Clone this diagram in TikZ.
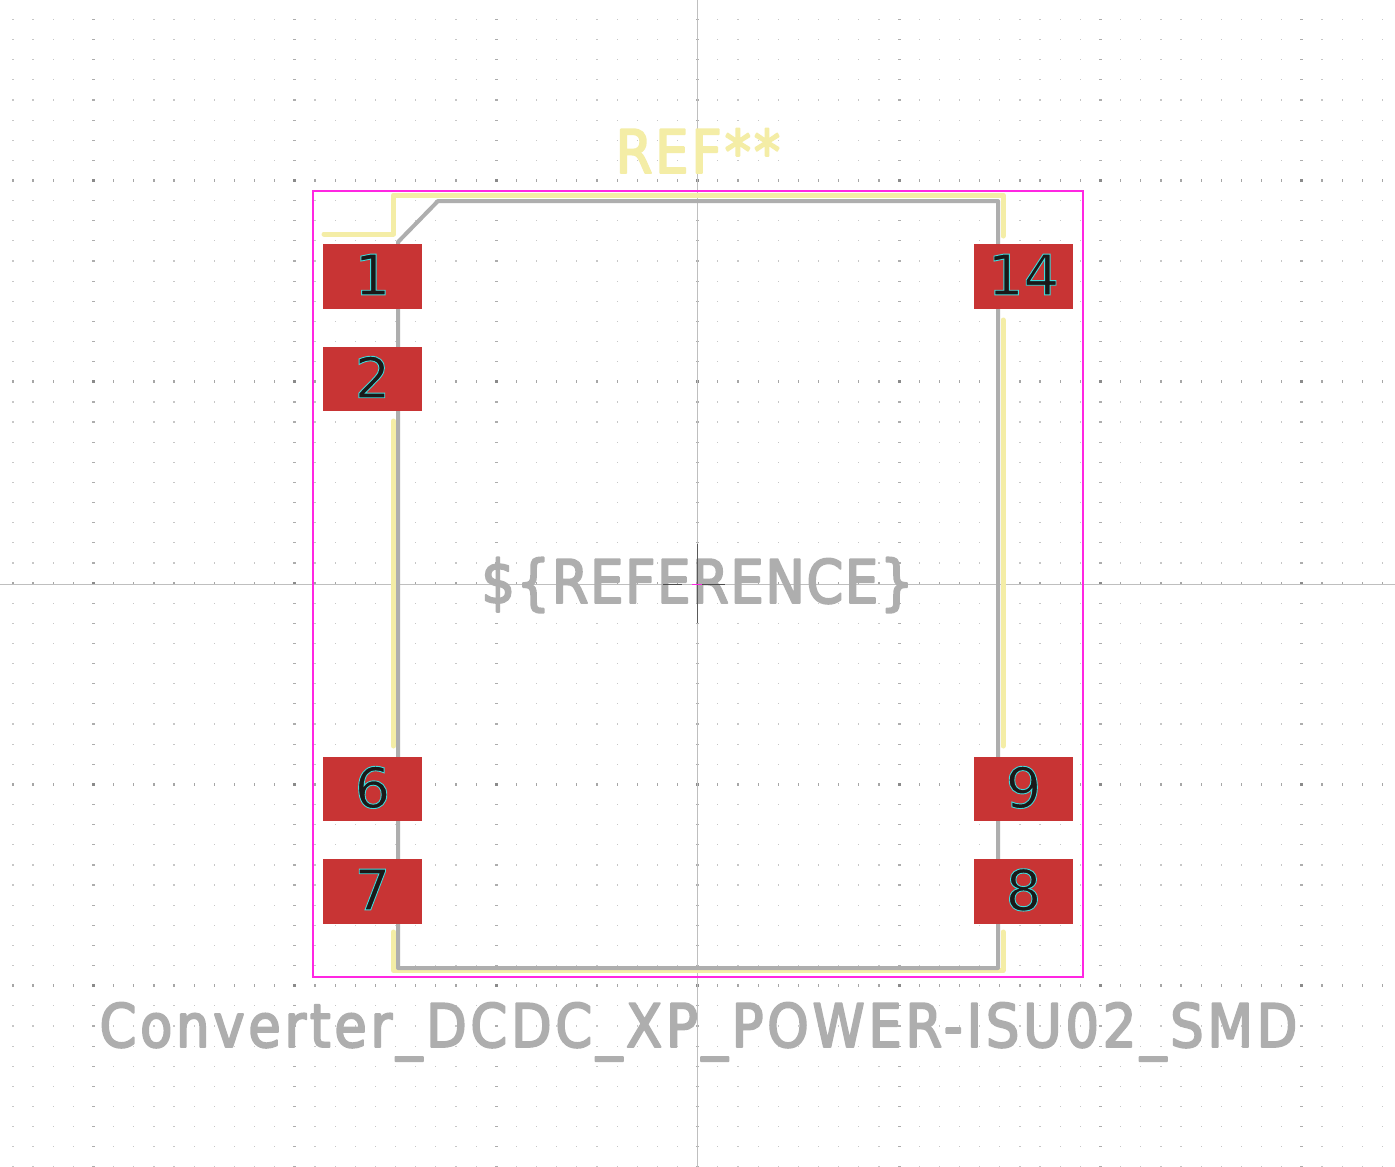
\documentclass[tikz,border=0pt]{standalone}
\usepackage{fontspec}
\setmainfont{DejaVu Sans}
\newfontfamily\namefont[FakeStretch=0.88,LetterSpace=6.2]{DejaVu Sans}
\newfontfamily\valuefont[FakeStretch=0.88,LetterSpace=2.7]{DejaVu Sans}
\newfontfamily\silkfont[FakeStretch=0.88,LetterSpace=4.7]{DejaVu Sans}
\definecolor{silkyellow}{HTML}{F4EDA6}
\definecolor{fabgray}{HTML}{AEAEAE}
\definecolor{courtmag}{HTML}{FF26E2}
\definecolor{padred}{HTML}{C83434}
\definecolor{gridgray}{HTML}{8A8A8A}
\newcommand{\padnum}[1]{\raisebox{4pt}{\special{pdf:code 2 Tr 0.9 w 0.25 0.85 0.85 RG}#1\special{pdf:code 0 Tr}}}
\newcommand{\strokefab}[1]{\special{pdf:code 2 Tr 1.9 w 1 j 1 J 0.682 0.682 0.682 RG}#1\special{pdf:code 0 Tr 0 J 0 j}}
\newcommand{\strokesilk}[1]{\special{pdf:code 2 Tr 1.9 w 1 j 1 J 0.957 0.929 0.651 RG}#1\special{pdf:code 0 Tr 0 J 0 j}}
\begin{document}
\begin{tikzpicture}[x=1pt,y=-1pt,
  silk/.style={draw=silkyellow,line width=5pt,line cap=round,line join=round},
  fab/.style={draw=fabgray,line width=4pt,line join=round},
  axis/.style={draw=black!25,line width=1pt},
  padbox/.style={fill=padred,minimum width=99pt,minimum height=64.5pt,inner sep=0pt,
    text=black!90,font=\fontsize{56}{56}\selectfont},
  graytext/.style={text=fabgray,inner sep=0pt,anchor=base}]
\useasboundingbox (0,0) rectangle (1395,1167);
\fill[white] (0,0) rectangle (1395,1167);
% grid
\foreach \i in {-4,...,64} {
  \pgfmathsetmacro{\gx}{93.5+20.14*\i}
  \foreach \j in {-8,...,49} {
    \pgfmathsetmacro{\gy}{180.5+20.13*\j}
    \fill[black!22] (\gx-0.6,\gy-0.6) rectangle +(1.2,1.2);
  }
}
\foreach \i in {0,10,...,60} {
  \pgfmathsetmacro{\gx}{93.5+20.14*\i}
  \foreach \j in {-8,...,49} {
    \pgfmathsetmacro{\gy}{180.5+20.13*\j}
    \fill[black!32] (\gx-1.5,\gy-0.6) rectangle +(3,1.2);
  }
}
\foreach \j in {0,10,...,40} {
  \pgfmathsetmacro{\gy}{180.5+20.13*\j}
  \foreach \i in {-4,...,64} {
    \pgfmathsetmacro{\gx}{93.5+20.14*\i}
    \fill[black!35] (\gx-0.6,\gy-1.5) rectangle +(1.2,3);
  }
  \foreach \i in {0,10,...,60} {
    \pgfmathsetmacro{\gx}{93.5+20.14*\i}
    \fill[gridgray] (\gx-1.5,\gy-1.5) rectangle +(3,3);
  }
}
% axes
\draw[axis] (697.5,0) -- (697.5,1167);
\draw[axis] (0,584) -- (1395,584);
% outlines
\draw[courtmag,line width=2pt] (313,191) rectangle (1083,976.5);
\draw[silk] (324,234) -- (393.5,234) -- (393.5,195) -- (1003,195) -- (1003,236);
\draw[silk] (1003,320) -- (1003,746);
\draw[silk] (393.5,421) -- (393.5,746);
\draw[silk] (393.5,932) -- (393.5,970.5) -- (1003,970.5) -- (1003,932);
\draw[fab] (398,242) -- (438,201) -- (998,201) -- (998,968) -- (398,968) -- cycle;
% pads
\node[padbox] (pad1) at (372.5,276.5) {\padnum{1}};
\node[padbox] (pad2) at (372.5,379) {\padnum{2}};
\node[padbox] (pad6) at (372.5,789) {\padnum{6}};
\node[padbox] (pad7) at (372.5,891.5) {\padnum{7}};
\node[padbox] (pad14) at (1023.5,276.5) {\padnum{14}};
\node[padbox] (pad9) at (1023.5,789) {\padnum{9}};
\node[padbox] (pad8) at (1023.5,891.5) {\padnum{8}};
% texts
\node[graytext,text=silkyellow,font=\silkfont\fontsize{60}{60}\selectfont] (reftext) at (698,173) {\strokesilk{REF**}};
\node[graytext,font=\valuefont\fontsize{60}{60}\selectfont] (valuetext) at (697.5,603) {\strokefab{\$\{REFERENCE\}}};
\node[graytext,font=\namefont\fontsize{60}{60}\selectfont] (nametext) at (698.5,1047) {\strokefab{Converter\_DCDC\_XP\_POWER-ISU02\_SMD}};
% centre mark
\draw[black!65,line width=1pt] (697.5,544) -- (697.5,623);
\draw[black!70,line width=1pt] (663,584) -- (682,584) (700,584) -- (725,584);
\draw[courtmag,line width=1pt] (692,584) -- (702,584);
\end{tikzpicture}
\end{document}
